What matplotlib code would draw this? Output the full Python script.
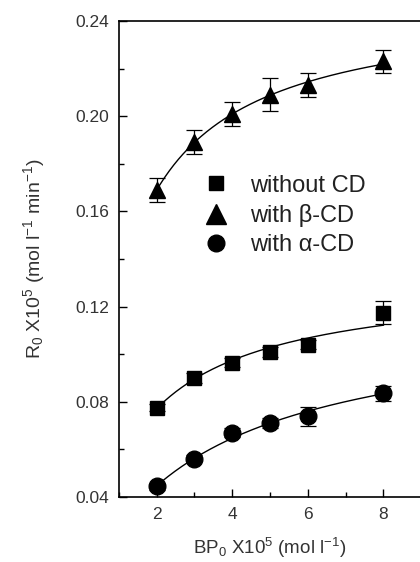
import numpy as np
import matplotlib
matplotlib.use('Agg')
import matplotlib.pyplot as plt
from matplotlib.ticker import MultipleLocator, FormatStrFormatter
from matplotlib.lines import Line2D

plt.rcParams['font.family'] = ['Liberation Sans', 'DejaVu Sans']
plt.rcParams['mathtext.fontset'] = 'custom'
plt.rcParams['mathtext.rm'] = 'Liberation Sans'
plt.rcParams['mathtext.it'] = 'Liberation Sans'

# BP0 x10^5 (mol/l)
bp = [2, 3, 4, 5, 6, 8]
# R0 x10^5 (mol/l/min)
r_none = [0.0775, 0.090, 0.0965, 0.101, 0.104, 0.1175]
e_none = [0.0015, 0.002, 0.002, 0.002, 0.002, 0.005]
r_beta = [0.169, 0.189, 0.201, 0.209, 0.213, 0.223]
e_beta = [0.005, 0.005, 0.005, 0.007, 0.005, 0.005]
r_alpha = [0.0445, 0.056, 0.067, 0.071, 0.074, 0.0835]
e_alpha = [0.0015, 0.0015, 0.002, 0.002, 0.004, 0.003]

# label, values, errors, marker, size in plot, size in legend
series = [
    ('without CD', r_none, e_none, 's', 9.5, 10),
    ('with \u03b2-CD', r_beta, e_beta, '^', 12, 14),
    ('with \u03b1-CD', r_alpha, e_alpha, 'o', 12, 12),
]

fig = plt.figure(figsize=(4.2, 5.62), dpi=100)
ax = fig.add_axes([0.283, 0.1157, 0.72, 0.847])

xs = np.linspace(2, 8, 200)
handles = []
for label, y, e, m, ms, lms in series:
    # saturation fit: 1/R = a + b/BP
    b, a = np.polyfit(1.0 / np.array(bp), 1.0 / np.array(y), 1)
    ax.plot(xs, 1.0 / (a + b / xs), color='black', lw=1.0)
    ax.errorbar(bp, y, yerr=e, fmt=m, color='black', ms=ms, capsize=5.5,
                elinewidth=0.9, capthick=0.9)
    handles.append(Line2D([], [], ls='none', marker=m, color='black', ms=lms, label=label))

ax.set_xlim(1, 9)
ax.set_ylim(0.04, 0.24)
ax.xaxis.set_major_locator(MultipleLocator(2))
ax.xaxis.set_minor_locator(MultipleLocator(1))
ax.yaxis.set_major_locator(MultipleLocator(0.04))
ax.yaxis.set_minor_locator(MultipleLocator(0.02))
ax.yaxis.set_major_formatter(FormatStrFormatter('%.2f'))
ax.tick_params(which='both', direction='in', labelsize=12.5, colors='black',
               labelcolor='#333333', top=False, right=False, pad=7)
ax.tick_params(which='major', length=6, width=1)
ax.tick_params(which='minor', length=3.5, width=1)
for s in ax.spines.values():
    s.set_linewidth(1.2)

ax.set_xlabel(r'BP$_0$ X10$^5$ (mol l$^{-1}$)', fontsize=13.5, color='#333333', labelpad=10)
ax.set_ylabel(r'R$_0$ X10$^5$ (mol l$^{-1}$ min$^{-1}$)', fontsize=14, color='#333333', labelpad=20)

ax.legend(handles=handles, loc='upper left', bbox_to_anchor=(0.258, 0.677), frameon=False,
          fontsize=17, handlelength=1.6, handletextpad=0.64, labelspacing=0.3,
          borderaxespad=0, borderpad=0, labelcolor='#222222')

fig.savefig('out.png', dpi=100)
